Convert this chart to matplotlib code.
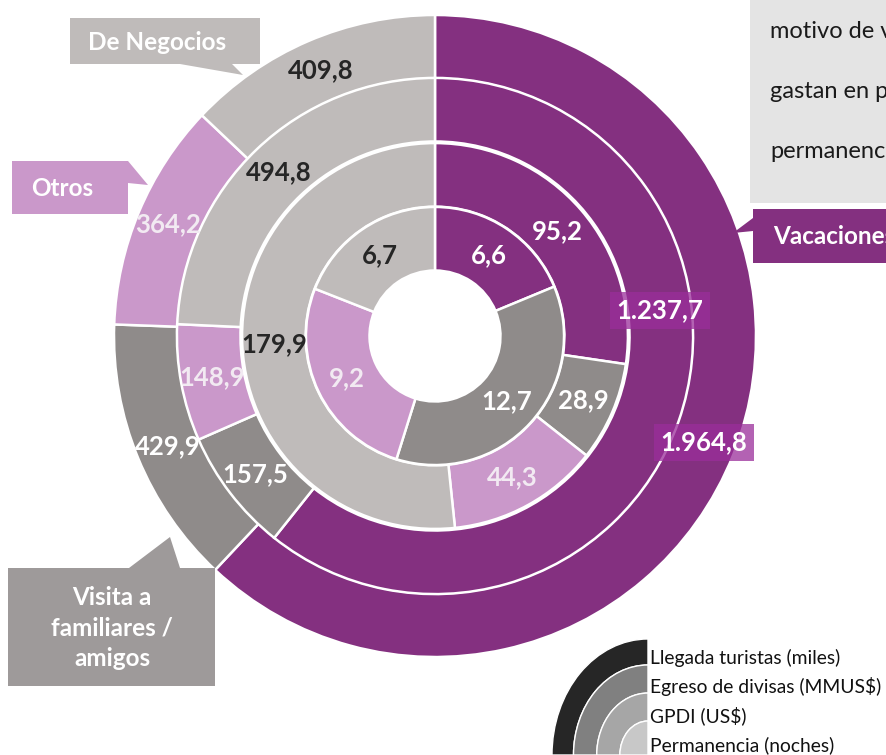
import matplotlib
matplotlib.use('Agg')
from matplotlib import pyplot as plt
from matplotlib.patches import Polygon, Rectangle, Wedge
import numpy as np

# rings from outside to inside, categories in clockwise order from the top
categories = ['Vacaciones', 'Visita a familiares / amigos', 'Otros', 'De Negocios']
llegada_turistas = [1964.8, 429.9, 364.2, 409.8]
egreso_divisas = [1237.7, 157.5, 148.9, 494.8]
gpdi = [95.2, 28.9, 44.3, 179.9]
permanencia = [6.6, 12.7, 9.2, 6.7]
ring_names = ['Llegada turistas (miles)', 'Egreso de divisas (MMUS$)',
              'GPDI (US$)', 'Permanencia (noches)']
note_lines = ['motivo de viaje', 'gastan en promedio', 'permanencia']

colors = ['#843080', '#8F8B8A', '#CA98CA', '#BFBBBA']
text_colors = ['white', 'white', '#F2EAF2', '#262626']
legend_colors = ['#262626', '#808080', '#A6A6A6', '#C8C8C8']

FONT = ['Lato', 'DejaVu Sans']
W, H = 886, 755


def fmt(v):
    s = f'{v:,.1f}'
    return s.replace(',', 'X').replace('.', ',').replace('X', '.')


def main():
    plt.rcParams['font.family'] = FONT
    fig = plt.figure(figsize=(W / 100, H / 100), dpi=100)

    # donut rings
    cx, cy, R = 435, 336, 321
    ax = fig.add_axes([(cx - R) / W, (H - cy - R) / H, 2 * R / W, 2 * R / H])
    rings = [llegada_turistas, egreso_divisas, gpdi, permanencia]
    radii = [1.0, 0.804, 0.601, 0.402]
    width = 0.198
    boxed = {(0, 0), (1, 0)}          # labels drawn on a translucent box
    moved = {(1, 0): 6.5}             # label angle moved like in the original
    for i, (vals, r) in enumerate(zip(rings, radii)):
        wedges, _ = ax.pie(vals, radius=r, startangle=90, counterclock=False,
                           colors=colors,
                           wedgeprops=dict(width=width, edgecolor='white', linewidth=1.8))
        for j, w in enumerate(wedges):
            ang = np.deg2rad(moved.get((i, j), (w.theta1 + w.theta2) / 2))
            rm = r - width / 2
            kw = {}
            if (i, j) in boxed:
                kw['bbox'] = dict(boxstyle='square,pad=0.26', facecolor='#9A2E9A',
                                  alpha=0.75, edgecolor='none')
            ax.text(rm * np.cos(ang), rm * np.sin(ang), fmt(vals[j]),
                    ha='center', va='center', fontsize=18.5, fontweight='bold',
                    color=text_colors[j], **kw)
    ax.set_xlim(-1, 1)
    ax.set_ylim(-1, 1)

    # overlay in pixel coordinates for callouts and the note box
    ov = fig.add_axes([0, 0, 1, 1], facecolor='none')
    ov.set_xlim(0, W)
    ov.set_ylim(H, 0)
    ov.axis('off')

    ov.add_patch(Rectangle((750, 0), 140, 203, facecolor='#E4E4E4', edgecolor='none'))
    for k, line in enumerate(note_lines):
        ov.text(770, 31 + k * 60.5, line, ha='left', va='center', fontsize=17,
                color='#1A1A1A', clip_on=True)

    callouts = [
        # (text, fill, box, pointer, text position)
        ('Vacaciones', colors[0], (753, 209, 140, 54),
         [(753, 218), (733, 233), (753, 231)], (773, 237), 'left'),
        ('Visita a\nfamiliares /\namigos', '#9E9A9A', (8, 568, 207, 118),
         [(129, 568), (170, 537), (180, 568)], (112, 628), 'center'),
        ('Otros', colors[2], (12, 161, 116, 53),
         [(128, 161), (148, 185), (128, 183)], (62, 188), 'center'),
        ('De Negocios', colors[3], (70, 18, 190, 46),
         [(180, 64), (243, 75), (232, 64)], (157, 43), 'center'),
    ]
    for txt, fc, (x, y, w, h), tri, (tx, ty), ha in callouts:
        ov.add_patch(Rectangle((x, y), w, h, facecolor=fc, edgecolor='none'))
        ov.add_patch(Polygon(tri, closed=True, facecolor=fc, edgecolor='none'))
        ov.text(tx, ty, txt, ha=ha, va='center', fontsize=17.5, fontweight='bold',
                color='white', linespacing=1.4, clip_on=True)

    # legend of the rings
    lg = fig.add_axes([552 / W, 0, 96 / W, 116 / H], facecolor='none')
    lg.set_xlim(-1, 0)
    lg.set_ylim(0, 1)
    lg.axis('off')
    bands = [1.0, 0.776, 0.534, 0.293]
    for k, rb in enumerate(bands):
        wd = rb - bands[k + 1] if k + 1 < len(bands) else None
        lg.add_patch(Wedge((0, 0), rb, 90, 180, width=wd, facecolor=legend_colors[k],
                           edgecolor='white', linewidth=1))
    for k, name in enumerate(ring_names):
        ov.text(650, 658 + k * 29, name, ha='left', va='center', fontsize=13.9,
                color='#111111', clip_on=True)

    fig.savefig('out.png', dpi=100)


if __name__ == '__main__':
    main()
